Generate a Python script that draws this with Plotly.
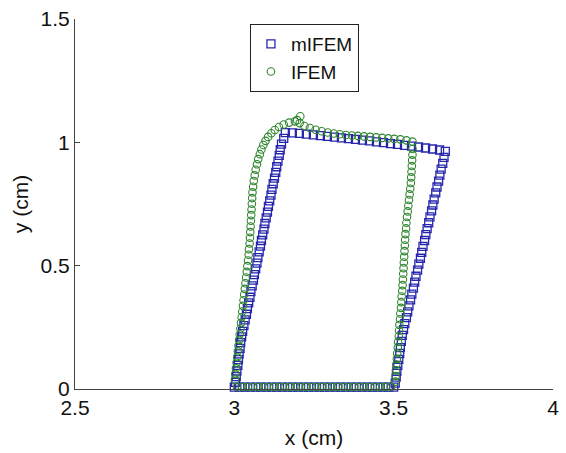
import plotly.graph_objects as go

# ---------------- data ----------------
# mIFEM (blue squares): boundary nodes, edge by edge
mifem_bottom_x = [3.000, 3.017, 3.033, 3.050, 3.067, 3.083, 3.100, 3.117, 3.133, 3.150,
                  3.167, 3.183, 3.200, 3.217, 3.233, 3.250, 3.267, 3.283, 3.300, 3.317,
                  3.333, 3.350, 3.367, 3.383, 3.400, 3.417, 3.433, 3.450, 3.467, 3.483, 3.500]
mifem_bottom_y = [0.008, 0.008, 0.008, 0.008, 0.008, 0.008, 0.008, 0.008, 0.008, 0.008,
                  0.008, 0.008, 0.008, 0.008, 0.008, 0.008, 0.008, 0.008, 0.008, 0.008,
                  0.008, 0.008, 0.008, 0.008, 0.008, 0.008, 0.008, 0.008, 0.008, 0.008, 0.008]

mifem_right_x = [3.505, 3.508, 3.510, 3.513, 3.516, 3.519, 3.521, 3.524, 3.527, 3.531,
                 3.535, 3.540, 3.544, 3.548, 3.553, 3.557, 3.562, 3.566, 3.570, 3.575,
                 3.579, 3.584, 3.588, 3.592, 3.597, 3.601, 3.605, 3.610, 3.614, 3.619,
                 3.623, 3.627, 3.632, 3.636, 3.641, 3.645, 3.649, 3.654, 3.658, 3.662]
mifem_right_y = [0.024, 0.048, 0.072, 0.096, 0.120, 0.144, 0.168, 0.193, 0.217, 0.241,
                 0.265, 0.289, 0.313, 0.337, 0.361, 0.385, 0.409, 0.433, 0.457, 0.482,
                 0.506, 0.530, 0.554, 0.578, 0.602, 0.626, 0.650, 0.674, 0.698, 0.722,
                 0.746, 0.770, 0.795, 0.819, 0.843, 0.867, 0.891, 0.915, 0.939, 0.963]

mifem_top_x = [3.644, 3.622, 3.600, 3.578, 3.556, 3.534, 3.512, 3.490, 3.468, 3.446,
               3.424, 3.402, 3.380, 3.358, 3.336, 3.314, 3.292, 3.270, 3.248, 3.226,
               3.204, 3.182, 3.160]
mifem_top_y = [0.969, 0.973, 0.977, 0.981, 0.985, 0.988, 0.992, 0.995, 0.999, 1.002,
               1.006, 1.009, 1.012, 1.015, 1.018, 1.021, 1.024, 1.027, 1.030, 1.033,
               1.036, 1.038, 1.039]

mifem_left_x = [3.155, 3.148, 3.144, 3.141, 3.137, 3.133, 3.130, 3.126, 3.122, 3.118,
                3.115, 3.111, 3.107, 3.104, 3.100, 3.096, 3.093, 3.089, 3.085, 3.082,
                3.078, 3.074, 3.071, 3.067, 3.063, 3.060, 3.056, 3.052, 3.049, 3.045,
                3.041, 3.038, 3.034, 3.030, 3.026, 3.023, 3.020, 3.018, 3.015, 3.013,
                3.011, 3.008, 3.006, 3.004]
mifem_left_y = [1.016, 0.993, 0.970, 0.947, 0.924, 0.901, 0.878, 0.855, 0.832, 0.809,
                0.786, 0.763, 0.740, 0.717, 0.694, 0.671, 0.648, 0.625, 0.602, 0.579,
                0.556, 0.533, 0.510, 0.487, 0.464, 0.441, 0.418, 0.395, 0.372, 0.349,
                0.326, 0.303, 0.280, 0.257, 0.234, 0.211, 0.188, 0.165, 0.142, 0.119,
                0.096, 0.073, 0.050, 0.027]

# IFEM (green circles)
ifem_bottom_x = [3.008, 3.025, 3.042, 3.058, 3.075, 3.092, 3.108, 3.125, 3.142, 3.158,
                 3.175, 3.192, 3.208, 3.225, 3.242, 3.258, 3.275, 3.292, 3.308, 3.325,
                 3.342, 3.358, 3.375, 3.392, 3.408, 3.425, 3.442, 3.458, 3.475, 3.492]
ifem_bottom_y = [0.008, 0.008, 0.008, 0.008, 0.008, 0.008, 0.008, 0.008, 0.008, 0.008,
                 0.008, 0.008, 0.008, 0.008, 0.008, 0.008, 0.008, 0.008, 0.008, 0.008,
                 0.008, 0.008, 0.008, 0.008, 0.008, 0.008, 0.008, 0.008, 0.008, 0.008]

ifem_right_x = [3.505, 3.506, 3.507, 3.508, 3.510, 3.511, 3.513, 3.514, 3.516, 3.517,
                3.518, 3.520, 3.521, 3.523, 3.524, 3.525, 3.527, 3.528, 3.529, 3.530,
                3.531, 3.532, 3.533, 3.534, 3.535, 3.536, 3.537, 3.539, 3.540, 3.542,
                3.544, 3.546, 3.548, 3.550, 3.552, 3.554, 3.555, 3.556, 3.557, 3.558,
                3.559, 3.559]
ifem_right_y = [0.030, 0.053, 0.076, 0.099, 0.122, 0.145, 0.168, 0.191, 0.214, 0.237,
                0.260, 0.283, 0.306, 0.329, 0.352, 0.375, 0.398, 0.421, 0.444, 0.467,
                0.490, 0.513, 0.536, 0.559, 0.582, 0.605, 0.628, 0.651, 0.674, 0.697,
                0.720, 0.743, 0.766, 0.789, 0.812, 0.835, 0.858, 0.881, 0.904, 0.927,
                0.950, 0.973]

ifem_top_x = [3.559, 3.540, 3.521, 3.502, 3.483, 3.464, 3.445, 3.426, 3.407, 3.388,
              3.369, 3.350, 3.331, 3.312, 3.293, 3.274, 3.255, 3.237, 3.220, 3.205,
              3.197, 3.207]
ifem_top_y = [1.003, 1.008, 1.012, 1.014, 1.016, 1.018, 1.020, 1.022, 1.024, 1.026,
              1.028, 1.030, 1.033, 1.036, 1.040, 1.045, 1.051, 1.058, 1.066, 1.078,
              1.090, 1.106]

ifem_left_x = [3.190, 3.172, 3.155, 3.140, 3.127, 3.116, 3.106, 3.098, 3.091, 3.085,
               3.080, 3.075, 3.071, 3.067, 3.064, 3.061, 3.059, 3.057, 3.056, 3.055,
               3.054, 3.053, 3.052, 3.051, 3.050, 3.049, 3.048, 3.046, 3.045, 3.043,
               3.041, 3.039, 3.037, 3.035, 3.033, 3.031, 3.029, 3.027, 3.025, 3.023,
               3.021, 3.019, 3.017, 3.015, 3.013, 3.011, 3.009, 3.007, 3.005, 3.003,
               3.002]
ifem_left_y = [1.085, 1.080, 1.072, 1.062, 1.050, 1.037, 1.022, 1.006, 0.989, 0.971,
               0.952, 0.932, 0.911, 0.889, 0.866, 0.843, 0.820, 0.797, 0.774, 0.751,
               0.728, 0.705, 0.682, 0.659, 0.636, 0.613, 0.590, 0.567, 0.544, 0.521,
               0.498, 0.475, 0.452, 0.429, 0.406, 0.383, 0.360, 0.337, 0.314, 0.291,
               0.268, 0.245, 0.222, 0.199, 0.176, 0.153, 0.130, 0.107, 0.084, 0.061,
               0.038]

x_ticks = [2.5, 3, 3.5, 4]
x_tick_text = ["2.5", "3", "3.5", "4"]
y_ticks = [0, 0.5, 1, 1.5]
y_tick_text = ["0", "0.5", "1", "1.5"]

# ---------------- figure ----------------
FONT = "Liberation Sans, Arial, sans-serif"
BLUE = "#2626ad"
GREEN = "#2f862f"

mifem_x = mifem_bottom_x + mifem_right_x + mifem_top_x + mifem_left_x
mifem_y = mifem_bottom_y + mifem_right_y + mifem_top_y + mifem_left_y
ifem_x = ifem_bottom_x + ifem_right_x + ifem_top_x + ifem_left_x
ifem_y = ifem_bottom_y + ifem_right_y + ifem_top_y + ifem_left_y

fig = go.Figure()
fig.add_trace(go.Scatter(
    x=mifem_x, y=mifem_y, mode="markers", name="mIFEM", cliponaxis=False,
    marker=dict(symbol="square-open", size=8, color=BLUE, line=dict(width=1.3, color=BLUE)),
))
fig.add_trace(go.Scatter(
    x=ifem_x, y=ifem_y, mode="markers", name="IFEM", cliponaxis=False,
    marker=dict(symbol="circle-open", size=7.5, color=GREEN, line=dict(width=1.1, color=GREEN)),
))

axis_common = dict(
    showline=True, linecolor="#444444", linewidth=1, showgrid=False, zeroline=False,
    ticks="inside", ticklen=5, tickwidth=1, tickcolor="#444444",
    tickfont=dict(family=FONT, size=21, color="#111111"), mirror=False,
)
fig.update_xaxes(range=[2.5, 4], tickvals=x_ticks, ticktext=x_tick_text,
                 title=dict(text="x (cm)", font=dict(family=FONT, size=21, color="#111111"), standoff=12),
                 **axis_common)
fig.update_yaxes(range=[0, 1.5], tickvals=y_ticks, ticktext=y_tick_text,
                 title=dict(text="y (cm)", font=dict(family=FONT, size=21, color="#111111"), standoff=6),
                 **axis_common)

fig.update_layout(
    width=566, height=453,
    margin=dict(l=75, r=7, t=18, b=64, pad=0),
    paper_bgcolor="white", plot_bgcolor="white",
    font=dict(family=FONT, size=21, color="#111111"),
    showlegend=True,
    legend=dict(x=0.366, y=0.9865, xanchor="left", yanchor="top",
                bgcolor="white", bordercolor="#222222", borderwidth=1,
                font=dict(family=FONT, size=19, color="#111111"),
                tracegroupgap=0, itemwidth=30),
)

fig.write_html("out.html")
